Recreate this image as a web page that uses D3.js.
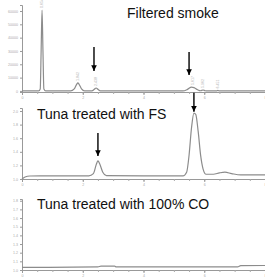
<!DOCTYPE html>
<html>
<head>
<meta charset="utf-8">
<script src="https://cdn.jsdelivr.net/npm/d3@7"></script>
<style>
  body { margin: 0; background: #fff; }
  svg { display: block; font-family: "Liberation Sans", Arial, sans-serif; }
</style>
</head>
<body>
<div id="chart"></div>
<script>
// retention time (min) for every trace
const timeTicks = [0, 2, 4, 6, 8];

// Filtered smoke trace: [time, signal]
const smokeTrace = [
  [0, 0], [0.55, 0], [0.6, 1500], [0.63, 30000], [0.66, 60750], [0.69, 30000], [0.72, 1500], [0.78, 0],
  [1.6, 0], [1.72, 1500], [1.8, 5000], [1.84, 6000], [1.88, 5000], [1.96, 1500], [2.06, 0],
  [2.3, 0], [2.38, 1200], [2.44, 2200], [2.5, 1200], [2.58, 0],
  [5.3, 0], [5.45, 1200], [5.58, 2900], [5.66, 2500], [5.78, 900], [5.88, 150], [5.96, 700], [6.03, 150], [6.1, 0],
  [6.4, 0], [6.45, 400], [6.5, 0], [8, 0]
];
const smokeTicks = [0, 10000, 20000, 30000, 40000, 50000, 60000];
const smokePeakLabels = [[0.66, "0.654"], [1.84, "1.842"], [2.44, "2.438"], [5.62, "5.617"], [5.96, "5.962"], [6.45, "6.451"]];

// Tuna treated with FS trace
const fsTrace = [
  [0, 1.0], [0.1, 1.03], [0.26, 1.044], [1.2, 1.046], [2.2, 1.046],
  [2.35, 1.08], [2.45, 1.22], [2.5, 1.266], [2.56, 1.22], [2.66, 1.1], [2.78, 1.05],
  [4.0, 1.045], [5.3, 1.046], [5.42, 1.1], [5.5, 1.35], [5.58, 1.75], [5.66, 1.97], [5.72, 1.95],
  [5.8, 1.7], [5.88, 1.35], [5.96, 1.15], [6.06, 1.07], [6.3, 1.07], [6.5, 1.09], [6.68, 1.1],
  [6.9, 1.08], [7.2, 1.06], [8, 1.06]
];
const fsTicks = [1.0, 1.2, 1.4, 1.6, 1.8, 2.0];

// Tuna treated with 100% CO trace
const coTrace = [
  [0, 1.03], [2.5, 1.035], [2.6, 1.045], [3.05, 1.045], [3.1, 1.035], [7.1, 1.035], [7.2, 1.05], [8, 1.052]
];
const coTicks = [1.0, 1.1, 1.2, 1.3, 1.4, 1.5, 1.6, 1.7, 1.8];

// arrows: [time, from value, to value]
const smokeArrows = [[2.37, 33000, 15000], [5.5, 29200, 12000]];
const fsArrows = [[2.5, 1.676, 1.34], [5.66, 2.27, 1.99]];

const width = 265, height = 277;
const svg = d3.select("#chart").append("svg")
  .attr("width", width).attr("height", height);

svg.append("defs").append("marker")
  .attr("id", "head")
  .attr("viewBox", "0 0 10 10")
  .attr("refX", 10).attr("refY", 5)
  .attr("markerWidth", 4).attr("markerHeight", 4)
  .attr("orient", "auto")
  .append("path").attr("d", "M0,0L10,5L0,10Z").attr("fill", "#000");

const x = d3.scaleLinear().domain([0, 8]).range([22, 265]);

const panels = [
  { trace: smokeTrace, ticks: smokeTicks, domain: [-800, 64500], range: [92, 5], fmt: d3.format("d"),
    title: "Filtered smoke", tx: 127, ty: 18, arrows: smokeArrows, peaks: smokePeakLabels },
  { trace: fsTrace, ticks: fsTicks, domain: [1.0, 2.044], range: [179, 108], fmt: d3.format(".1f"),
    title: "Tuna treated with FS", tx: 37, ty: 119, arrows: fsArrows, peaks: [] },
  { trace: coTrace, ticks: coTicks, domain: [1.0, 1.82], range: [270, 199], fmt: d3.format(".1f"),
    title: "Tuna treated with 100% CO", tx: 37, ty: 209, arrows: [], peaks: [] }
];

panels.forEach(p => {
  const y = d3.scaleLinear().domain(p.domain).range(p.range);
  const g = svg.append("g");

  // y axis
  const ya = g.append("g")
    .attr("transform", `translate(${x.range()[0]},0)`)
    .call(d3.axisLeft(y).tickValues(p.ticks).tickFormat(p.fmt).tickSize(2).tickPadding(2));
  ya.select(".domain").attr("stroke", "#999");
  ya.selectAll(".tick line").attr("stroke", "#999");
  ya.selectAll("text").attr("font-size", 3.6).attr("fill", "#aaa");

  // x axis
  const xa = g.append("g")
    .attr("transform", `translate(0,${p.range[0]})`)
    .call(d3.axisBottom(x).ticks(16).tickSize(2).tickFormat(""));
  xa.select(".domain").attr("stroke", "#999");
  xa.selectAll(".tick line").attr("stroke", "#aaa");
  const xm = g.append("g")
    .attr("transform", `translate(0,${p.range[0]})`)
    .call(d3.axisBottom(x).tickValues(timeTicks).tickSize(3).tickPadding(1).tickFormat(d3.format("d")));
  xm.select(".domain").remove();
  xm.selectAll(".tick line").attr("stroke", "#999");
  xm.selectAll("text").attr("font-size", 3.6).attr("fill", "#aaa");

  // trace
  const line = d3.line()
    .x(d => x(d[0]))
    .y(d => y(d[1]))
    .curve(d3.curveMonotoneX);
  g.append("path")
    .datum(p.trace)
    .attr("fill", "none")
    .attr("stroke", "#8c8c8c")
    .attr("stroke-width", 1.2)
    .attr("d", line);

  // peak labels (tiny rotated retention times)
  p.peaks.forEach(([t, lab]) => {
    const top = d3.max(p.trace.filter(d => Math.abs(d[0] - t) < 0.08), d => d[1]) || 0;
    g.append("text")
      .attr("transform", `translate(${x(t) + 1},${y(top) - 2}) rotate(-90)`)
      .attr("font-size", 3.6)
      .attr("fill", "#b0b0b0")
      .text(lab);
  });

  // arrows
  p.arrows.forEach(([t, v1, v2]) => {
    g.append("line")
      .attr("x1", x(t)).attr("x2", x(t))
      .attr("y1", y(v1)).attr("y2", y(v2))
      .attr("stroke", "#000")
      .attr("stroke-width", 1.4)
      .attr("marker-end", "url(#head)");
  });

  g.append("text")
    .attr("x", p.tx).attr("y", p.ty)
    .attr("font-size", 14)
    .attr("fill", "#111")
    .text(p.title);
});
</script>
</body>
</html>
